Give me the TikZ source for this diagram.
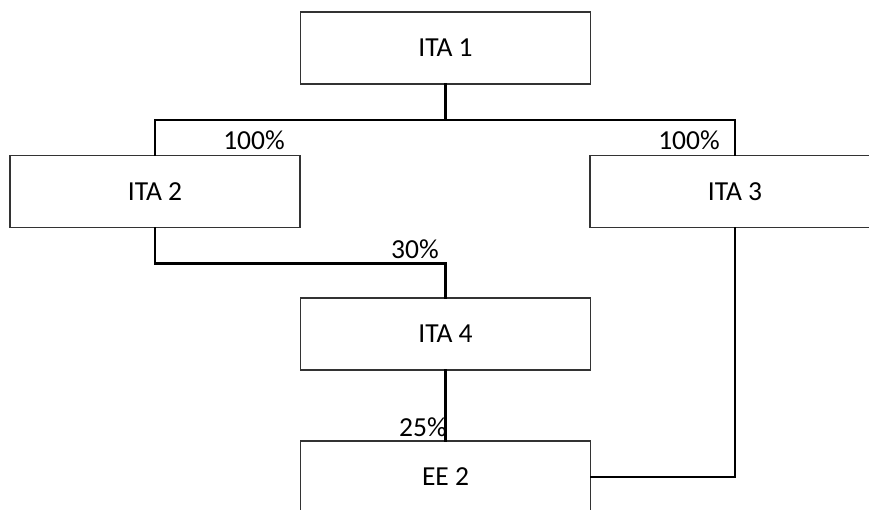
\documentclass[tikz,border=0pt]{standalone}
\usepackage{fontspec}
\setmainfont{Carlito}
\usepackage{tikz}

\begin{document}
\begin{tikzpicture}[
            x = 1pt, y = -1pt, % one unit per pixel, y runs down
            font = \fontsize{27.5}{32}\selectfont,
            entity/.style = {draw=black!80, line width=1.4pt, minimum width=290pt,
                             minimum height=72pt, inner sep=0pt}, % company box
            link/.style = {line width=2.8pt, line cap=rect}, % ownership line
            share/.style = {inner sep=0pt} % percentage
        ]
	\useasboundingbox (0,0) rectangle (869,509);

	\node[entity] (ita1) at (445.5,48) {ITA 1};
	\node[entity] (ita2) at (155,191.5) {ITA 2};
	\node[entity] (ita3) at (735,191.5) {ITA 3};
	\node[entity] (ita4) at (445.5,334) {ITA 4};
	\node[entity] (ee2)  at (445.5,477) {EE 2};

	\coordinate (split) at (445.5,120);

	\draw[link] (ita1.south) -- (split);
	\draw[link] (ita2.north) |- (split) -| (ita3.north);
	\draw[link] (ita2.south) -- ++(0,35) -| (ita4.north);
	\draw[link] (ita4.south) -- (ee2.north);
	\draw[link] (ita3.south) |- (ee2.east);

	\node[share] (s2) at (254,140) {100\%};
	\node[share] (s3) at (689,140) {100\%};
	\node[share] (s4) at (415,249) {30\%};
	\node[share] (s5) at (423,427) {25\%};

\end{tikzpicture}
\end{document}
